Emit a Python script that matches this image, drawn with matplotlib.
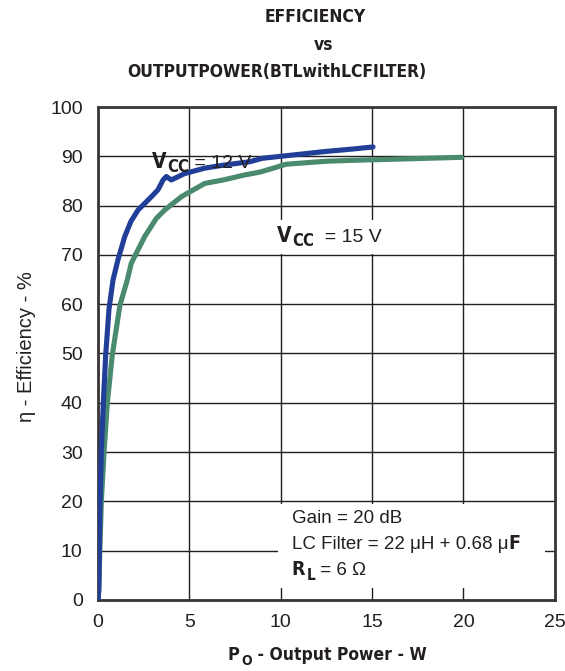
import matplotlib
matplotlib.use("Agg")
import matplotlib.pyplot as plt
from matplotlib.patches import Rectangle
from matplotlib.text import Annotation

plt.rcParams['font.family'] = ['Liberation Sans', 'DejaVu Sans']

# Vcc = 12 V
p12 = [0, 0.04, 0.07, 0.11, 0.18, 0.29, 0.42, 0.6, 0.82, 1.09, 1.46, 1.8, 2.19,
       2.92, 3.28, 3.56, 3.74, 4.01, 4.74, 5.84, 6.85, 8.3, 9.0, 10.0, 11.0,
       12.5, 14.0, 15.05]
eff12 = [0, 2, 10, 20, 30, 40, 49.7, 59, 64.9, 69, 73.7, 76.8, 79.1,
         81.8, 83.2, 85.2, 85.9, 85.2, 86.5, 87.6, 88.2, 88.9, 89.6, 90, 90.4,
         91, 91.5, 91.9]

# Vcc = 15 V
p15 = [0, 0.04, 0.1, 0.18, 0.33, 0.51, 0.78, 1.2, 1.6, 1.82, 2.55, 3.19, 3.65,
       4.56, 5.84, 6.85, 8.0, 8.86, 9.6, 10.3, 12.5, 14.0, 16.1, 18.0, 19.9]
eff15 = [0, 2, 10, 20, 30, 40, 49.7, 59.8, 64.9, 68.3, 73.7, 77.4, 79.1,
         81.8, 84.5, 85.2, 86.2, 86.8, 87.6, 88.4, 89, 89.2, 89.4, 89.6, 89.8]

xticks = [0, 5, 10, 15, 20, 25]
yticks = list(range(0, 101, 10))

ink = '#231f20'
bold = dict(family='DejaVu Sans', fontweight='bold', fontstretch='condensed', color=ink)

fig = plt.figure(figsize=(5.65, 6.71), dpi=100)
ax = fig.add_axes([0.1735, 0.106, 0.8085, 0.7345])

ax.plot(p15, eff15, color='#4a8a6e', lw=3.7, solid_capstyle='round', zorder=3)
ax.plot(p12, eff12, color='#213f98', lw=3.7, solid_capstyle='round', zorder=4)

ax.set_xlim(0, 25)
ax.set_ylim(0, 100)
ax.set_xticks(xticks)
ax.set_yticks(yticks)
ax.tick_params(length=0, labelsize=14, colors=ink)
ax.tick_params(axis='x', pad=10)
ax.tick_params(axis='y', pad=11)
ax.grid(True, color=ink, lw=1.0)
for s in ax.spines.values():
    s.set_linewidth(2.0)
    s.set_color('#3a3536')

ax.set_ylabel('η - Efficiency - %', fontsize=14.5, color=ink)
ax.yaxis.set_label_coords(-0.135, 0.513)

# white boxes behind labels
ax.add_patch(Rectangle((9.4, 70.2), 6.3, 6.9, facecolor='white', edgecolor='none', zorder=2))
ax.add_patch(Rectangle((9.85, 2.4), 14.6, 17.1, facecolor='white', edgecolor='none', zorder=2))


def chain(prev, s, dx=0, dy=0, **kw):
    a = Annotation(s, xy=(1, 0), xycoords=prev, xytext=(dx, dy),
                   textcoords='offset points', ha='left', va='bottom', **kw)
    if prev.axes is not None:
        ax.add_artist(a)
    else:
        fig.add_artist(a)
    return a


def vcc(x, y, rest):
    t = ax.text(x, y, 'V', fontsize=15, va='bottom', zorder=5, **bold)
    t2 = chain(t, 'CC', 0.5, -3.5, fontsize=12, zorder=5, **bold)
    chain(t2, rest, 0, 3.5, fontsize=14, color=ink, zorder=5)


vcc(2.95, 86.9, ' = 12 V')
vcc(9.8, 71.9, '  = 15 V')

ax.text(10.6, 14.8, 'Gain = 20 dB', fontsize=13.5, va='bottom', color=ink, zorder=5)
t = ax.text(10.6, 9.5, 'LC Filter = 22 μH + 0.68 μ', fontsize=13.5, va='bottom',
            color=ink, zorder=5)
chain(t, 'F', 0, 0, fontsize=14, zorder=5, **bold)
t = ax.text(10.6, 4.2, 'R', fontsize=14, va='bottom', zorder=5, **bold)
t = chain(t, 'L', 1, -3, fontsize=11, zorder=5, **bold)
chain(t, ' = 6 Ω', 0, 3, fontsize=13.5, color=ink, zorder=5)

# x label
t = fig.text(0.402, 0.011, 'P', fontsize=13, va='bottom', **bold)
t = chain(t, 'O', 1.5, -3, fontsize=10, **bold)
chain(t, ' - Output Power - W', 0, 3, fontsize=12.5, **bold)

fig.text(0.557, 0.975, 'EFFICIENCY', ha='center', va='center', fontsize=12.5, **bold)
fig.text(0.573, 0.933, 'vs', ha='center', va='center', fontsize=12.5, **bold)
fig.text(0.49, 0.892, 'OUTPUTPOWER(BTLwithLCFILTER)', ha='center', va='center',
         fontsize=12.5, **bold)

fig.savefig('out.png', dpi=100)
